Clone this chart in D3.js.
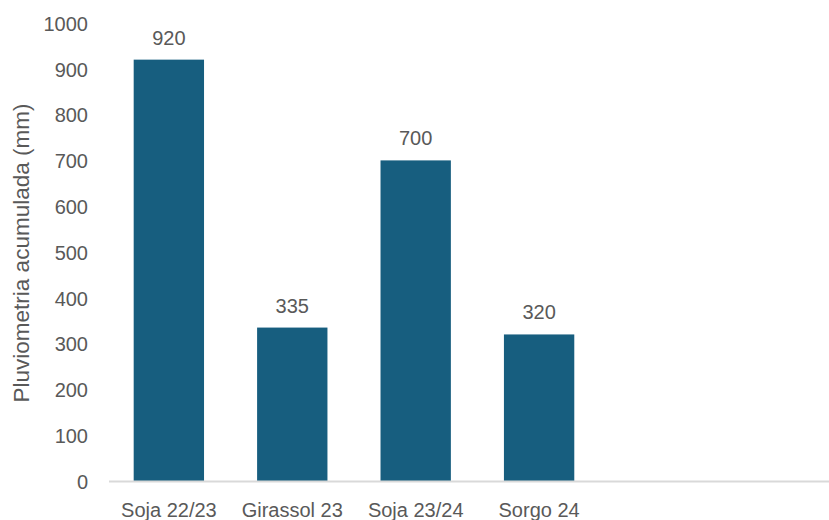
<!DOCTYPE html>
<html>
<head>
<meta charset="utf-8">
<script src="https://cdn.jsdelivr.net/npm/d3@7"></script>
<style>
  body { margin: 0; background: #fff; }
  text { font-family: "Liberation Sans", Arial, sans-serif; fill: #595959; }
</style>
</head>
<body>
<div id="chart"></div>
<script>
// Chart data
const categories = ['Soja 22/23', 'Girassol 23', 'Soja 23/24', 'Sorgo 24']
const rainfall = [920, 335, 700, 320]
const yTicks = [0, 100, 200, 300, 400, 500, 600, 700, 800, 900, 1000]
const yTitle = 'Pluviometria acumulada (mm)'

const width = 829, height = 520
const plotLeft = 109, plotRight = 829, plotBottom = 481, plotTop = 23
const slots = 6 // the category axis has room for more seasons than shown
const step = 122.8
const barColor = '#175e7f'

const svg = d3.select('#chart')
    .append('svg')
    .attr('width', width)
    .attr('height', height)

// Scales
const slotNames = categories.concat(d3.range(slots - categories.length).map(i => 'empty' + i))
const x = d3.scaleBand()
    .domain(slotNames)
    .range([plotLeft, plotLeft + step * slots])
    .paddingInner(0.43)
    .paddingOuter(0.2)

const y = d3.scaleLinear()
    .domain([0, 1000])
    .range([plotBottom, plotTop])

// Bars
svg.selectAll('rect.bar')
    .data(categories)
    .enter()
    .append('rect')
    .attr('class', 'bar')
    .attr('x', d => x(d))
    .attr('y', (d, i) => y(rainfall[i]))
    .attr('width', x.bandwidth())
    .attr('height', (d, i) => y(0) - y(rainfall[i]))
    .attr('fill', barColor)

// Value labels
svg.selectAll('text.value')
    .data(categories)
    .enter()
    .append('text')
    .attr('class', 'value')
    .attr('x', d => x(d) + x.bandwidth() / 2)
    .attr('y', (d, i) => y(rainfall[i]) - 15)
    .attr('text-anchor', 'middle')
    .style('font-size', '20px')
    .text((d, i) => rainfall[i])

// Y axis (labels only)
const yAxis = svg.append('g')
    .attr('transform', `translate(88,0)`)
    .call(d3.axisLeft(y).tickValues(yTicks).tickFormat(d3.format('d')).tickSize(0).tickPadding(0))
yAxis.select('.domain').remove()
yAxis.selectAll('text').style('font-size', '20px').attr('fill', '#595959').attr('dy', '0.36em')

// X axis
const xAxis = svg.append('g')
    .attr('transform', `translate(0,${plotBottom})`)
    .call(d3.axisBottom(x).tickValues(categories).tickSize(0).tickPadding(0))
xAxis.select('.domain').remove()
xAxis.selectAll('text').style('font-size', '20px').attr('fill', '#595959').attr('y', 36).attr('dy', 0)

svg.append('line')
    .attr('x1', plotLeft)
    .attr('x2', plotRight)
    .attr('y1', plotBottom + 0.5)
    .attr('y2', plotBottom + 0.5)
    .attr('stroke', '#d9d9d9')
    .attr('stroke-width', 2)

// Y axis title
svg.append('text')
    .attr('transform', `translate(29,253) rotate(-90)`)
    .attr('text-anchor', 'middle')
    .style('font-size', '22.5px')
    .text(yTitle)
</script>
</body>
</html>
